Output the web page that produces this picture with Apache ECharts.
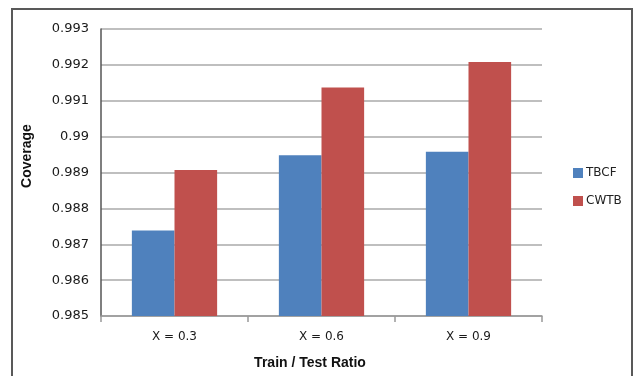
<!DOCTYPE html>
<html>
<head>
<meta charset="utf-8">
<script src="https://cdn.jsdelivr.net/npm/echarts@6/dist/echarts.min.js"></script>
<style>html,body{margin:0;padding:0;background:#fff}#c{width:634px;height:376px}</style>
</head>
<body>
<div id="c"></div>
<script>
var categories = ['X = 0.3', 'X = 0.6', 'X = 0.9'];
var tbcf = [0.98738, 0.98948, 0.98958];
var cwtb = [0.98907, 0.99137, 0.99208];
var seriesNames = ['TBCF', 'CWTB'];
var yMin = 0.985, yMax = 0.993, yStep = 0.001;

var chart = echarts.init(document.getElementById('c'));
chart.setOption({
  animation: false,
  backgroundColor: '#fff',
  grid: { left: 101, right: 92, top: 29, bottom: 60, containLabel: false },
  legend: {
    orient: 'vertical', left: 568, top: 162, itemWidth: 10, itemHeight: 10, itemGap: 16,
    icon: 'rect',
    textStyle: { fontFamily: 'DejaVu Sans', fontSize: 12, color: '#222', padding: [0,0,0,-2] },
    data: seriesNames
  },
  xAxis: {
    type: 'category', data: categories,
    axisLine: { lineStyle: { color: '#999', width: 1.5 } },
    axisTick: { show: true, alignWithLabel: false, length: 6, lineStyle: { color: '#999', width: 1.5 } },
    axisLabel: { fontFamily: 'DejaVu Sans', fontSize: 12, color: '#1a1a1a', margin: 15 }
  },
  yAxis: {
    type: 'value', min: yMin, max: yMax, interval: yStep,
    axisLine: { show: true, lineStyle: { color: '#555', width: 1.5 } },
    axisTick: { show: false },
    splitLine: { lineStyle: { color: '#aaa', width: 1.5 } },
    axisLabel: { fontFamily: 'DejaVu Sans', fontSize: 13, color: '#1a1a1a', margin: 12,
      formatter: function (v) { return String(Math.round(v * 1000) / 1000); } }
  },
  series: [
    { name: seriesNames[0], type: 'bar', data: tbcf, barGap: '0%', barCategoryGap: '42%',
      itemStyle: { color: '#4F81BD' } },
    { name: seriesNames[1], type: 'bar', data: cwtb, barGap: '0%', barCategoryGap: '42%',
      itemStyle: { color: '#C0504D' } }
  ],
  graphic: [
    { type: 'rect', shape: { x: 12, y: 9, width: 620, height: 380 },
      style: { fill: 'none', stroke: '#595959', lineWidth: 2 }, silent: true, z: -1 },
    { type: 'text', x: 310, y: 363,
      style: { text: 'Train / Test Ratio', font: 'bold 14px "Liberation Sans"', fill: '#111',
        textAlign: 'center', textVerticalAlign: 'middle' } },
    { type: 'text', x: 27, y: 156, rotation: Math.PI / 2,
      style: { text: 'Coverage', font: 'bold 14px "Liberation Sans"', fill: '#111',
        textAlign: 'center', textVerticalAlign: 'middle' } }
  ]
});
</script>
</body>
</html>
